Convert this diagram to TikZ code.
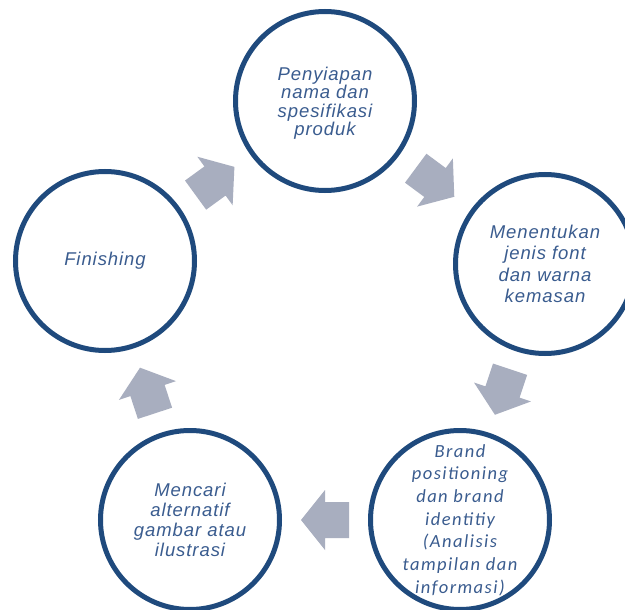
\documentclass[tikz,border=0pt]{standalone}
\usepackage{fontspec}
\usetikzlibrary{calc}
\newfontfamily\stepfont{Liberation Sans}[LetterSpace=5]
\newfontfamily\brandfont{Carlito}[LetterSpace=8]
\definecolor{ringblue}{HTML}{1F4A7D}
\definecolor{labelblue}{HTML}{3A5C8F}
\definecolor{arrowgray}{HTML}{A8AEBF}

\begin{document}
\begin{tikzpicture}[x=1pt,y=-1pt,
  stage/.style={circle, draw=ringblue, line width=5pt, fill=white,
    minimum size=179pt, inner sep=0pt},
  stagetext/.style={align=center, text=labelblue, inner sep=0pt,
    font=\stepfont\itshape\fontsize{18.5}{#1}\selectfont},
  stagetext/.default=20,
  brandtext/.style={align=center, text=labelblue, inner sep=0pt,
    font=\brandfont\itshape\fontsize{18.5}{22.7}\selectfont},
  pics/cyclearrow/.style={code={
    \fill[arrowgray] (24,0) -- (0,30) -- (0,18) -- (-24,18) -- (-24,-18)
      -- (0,-18) -- (0,-30) -- cycle;}}
]
\useasboundingbox (0,0) rectangle (625,610);
\fill[white] (0,0) rectangle (625,610);

% five stages on a regular pentagon
\node[stage] (prep)   at (325,101) {};
\node[stage] (font)   at (545,264) {};
\node[stage] (brand)  at (460,520) {};
\node[stage] (visual) at (190,520) {};
\node[stage] (finish) at (105,261) {};

\node[stagetext=18.5] (prep-t)   at ([yshift=-2pt]prep) {Penyiapan\\nama dan\\spesifikasi\\produk};
\node[stagetext=21.5] (font-t)   at (font)   {Menentukan\\jenis font\\dan warna\\kemasan};
\node[brandtext]      (brand-t)  at (brand)  {Brand\\positioning\\dan brand\\identitiy\\(Analisis\\tampilan dan\\informasi)};
\node[stagetext=20]   (visual-t) at (visual) {Mencari\\alternatif\\gambar atau\\ilustrasi};
\node[stagetext]      (finish-t) at (finish) {Finishing};

% block arrows halfway between consecutive stages
\foreach \a/\b in {prep/font, font/brand, brand/visual, visual/finish, finish/prep} {
  \path let \p1 = ($(\b)-(\a)$), \n1 = {atan2(\y1,\x1)} in
    ($(\a)!0.5!(\b)$) pic[rotate=\n1] {cyclearrow};
}
\end{tikzpicture}
\end{document}
